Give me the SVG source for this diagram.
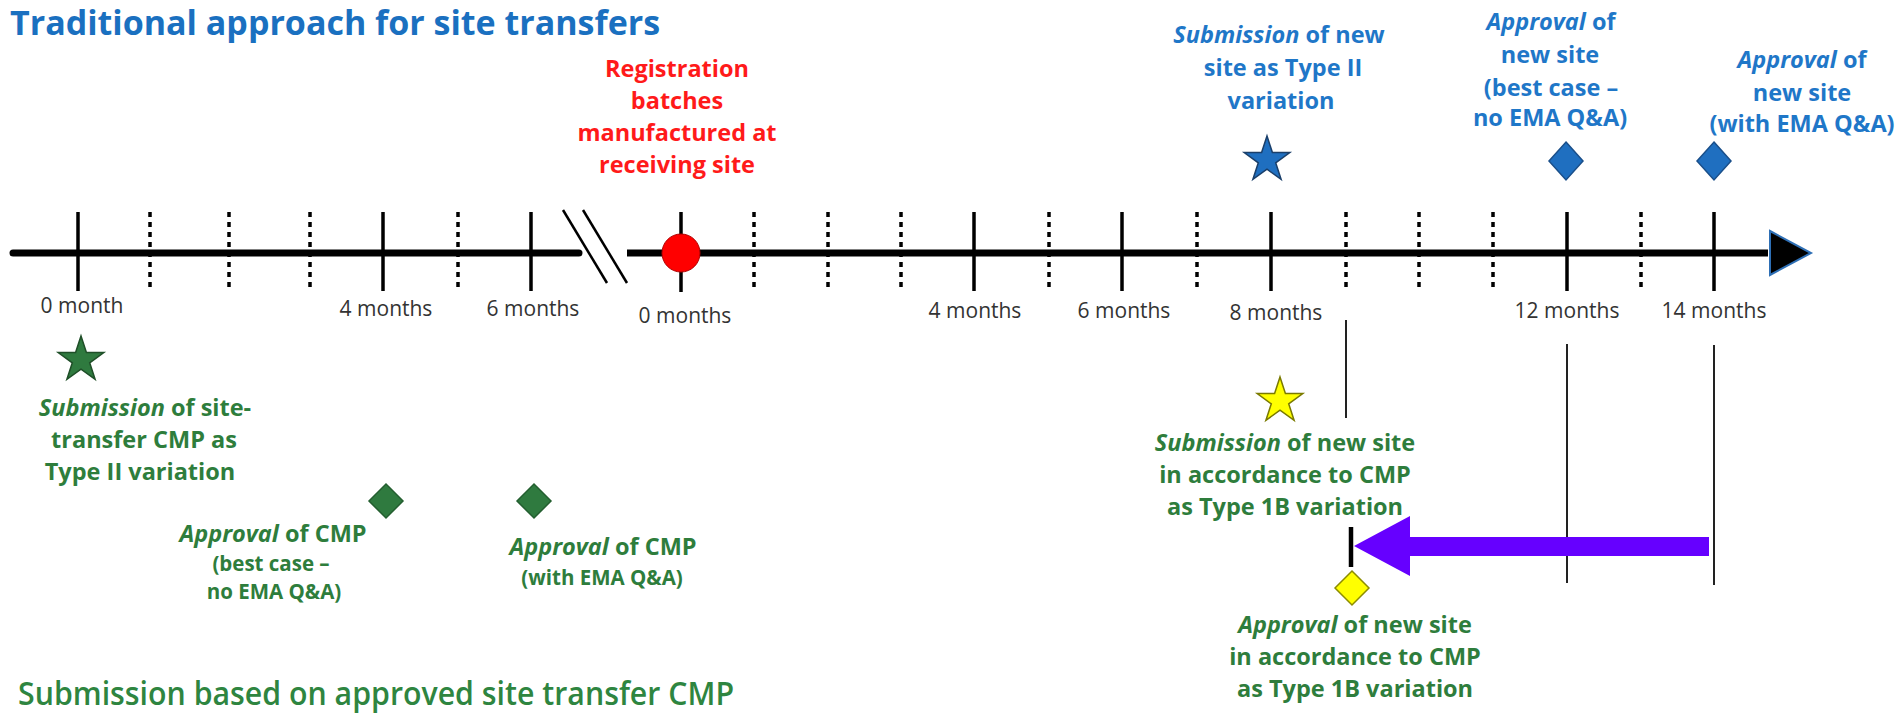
<svg xmlns="http://www.w3.org/2000/svg" xmlns:xlink="http://www.w3.org/1999/xlink" width="1903" height="716" viewBox="0 0 1903 716">
<style>
text{font-family:"Open Sans","Liberation Sans",sans-serif;}
.title{font-size:34px;font-weight:700;fill:#1a70c0;}
.btitle{font-size:32px;font-weight:600;fill:#2e8540;}
.tick{font-size:21px;fill:#333;text-anchor:middle;}
.lbl{font-size:23.5px;font-weight:700;text-anchor:middle;}
.sm{font-size:20.5px;}
.blue{fill:#1f77c8;}
.green{fill:#2e7d3c;}
.red{fill:#ff1a1a;}
.it{font-style:italic;}
.axis{stroke:#000;stroke-width:7;fill:none;}
.solid{stroke:#000;stroke-width:3.5;}
.dot{stroke:#000;stroke-width:3.5;stroke-dasharray:5 5;}
.thin{stroke:#222;stroke-width:2;}
</style>
<defs>
<polygon id="star" points="0,-24 5.4,-7.4 22.8,-7.4 8.7,2.8 14.1,19.4 0,9.2 -14.1,19.4 -8.7,2.8 -22.8,-7.4 -5.4,-7.4"/>
</defs>
<rect width="1903" height="716" fill="#fff"/>

<g id="title"><text class="title" x="10" y="35">Traditional approach for site transfers</text></g>
<g id="bottom-title"><text class="btitle" x="18" y="705" textLength="716" lengthAdjust="spacingAndGlyphs">Submission based on approved site transfer CMP</text></g>

<g id="connectors">
<line class="axis" x1="13" y1="253" x2="579" y2="253" stroke-linecap="round"/>
<line class="axis" x1="627" y1="253" x2="1768" y2="253"/>
<line x1="563" y1="210" x2="607" y2="283" stroke="#000" stroke-width="2.5"/>
<line x1="583" y1="210" x2="627" y2="283" stroke="#000" stroke-width="2.5"/>
<polygon points="1770,231 1811,253 1770,275" fill="#000" stroke="#2e6fb5" stroke-width="2"/>
<g>
<line class="solid" x1="78" y1="212" x2="78" y2="291"/>
<line class="dot" x1="150" y1="212" x2="150" y2="291"/>
<line class="dot" x1="229" y1="212" x2="229" y2="291"/>
<line class="dot" x1="310" y1="212" x2="310" y2="291"/>
<line class="solid" x1="383" y1="212" x2="383" y2="291"/>
<line class="dot" x1="458" y1="212" x2="458" y2="291"/>
<line class="solid" x1="531" y1="212" x2="531" y2="291"/>
<line class="solid" x1="681" y1="212" x2="681" y2="292"/>
<line class="dot" x1="754" y1="212" x2="754" y2="291"/>
<line class="dot" x1="828" y1="212" x2="828" y2="291"/>
<line class="dot" x1="901" y1="212" x2="901" y2="291"/>
<line class="solid" x1="974" y1="212" x2="974" y2="291"/>
<line class="dot" x1="1049" y1="212" x2="1049" y2="291"/>
<line class="solid" x1="1122" y1="212" x2="1122" y2="291"/>
<line class="dot" x1="1197" y1="212" x2="1197" y2="291"/>
<line class="solid" x1="1271" y1="212" x2="1271" y2="291"/>
<line class="dot" x1="1346" y1="212" x2="1346" y2="291"/>
<line class="dot" x1="1419" y1="212" x2="1419" y2="291"/>
<line class="dot" x1="1493" y1="212" x2="1493" y2="291"/>
<line class="solid" x1="1567" y1="212" x2="1567" y2="291"/>
<line class="dot" x1="1641" y1="212" x2="1641" y2="291"/>
<line class="solid" x1="1714" y1="212" x2="1714" y2="291"/>
</g>
<line class="thin" x1="1346" y1="320" x2="1346" y2="418"/>
<line class="thin" x1="1567" y1="344" x2="1567" y2="583"/>
<line class="thin" x1="1714" y1="345" x2="1714" y2="585"/>
<line x1="1351" y1="527" x2="1351" y2="567" stroke="#000" stroke-width="4.5"/>
<polygon points="1709,537 1410,537 1410,516 1354,546 1410,576 1410,556 1709,556" fill="#6600ff"/>
</g>

<g id="tick-labels">
<text class="tick" x="82" y="313">0 month</text>
<text class="tick" x="386" y="316">4 months</text>
<text class="tick" x="533" y="316">6 months</text>
<text class="tick" x="685" y="323">0 months</text>
<text class="tick" x="975" y="318">4 months</text>
<text class="tick" x="1124" y="318">6 months</text>
<text class="tick" x="1276" y="320">8 months</text>
<text class="tick" x="1567" y="318">12 months</text>
<text class="tick" x="1714" y="318">14 months</text>
</g>

<g id="registration">
<circle cx="681" cy="253" r="19" fill="#ff0000" stroke="#b00000" stroke-width="1"/>
<text class="lbl red"><tspan x="677" y="77">Registration</tspan><tspan x="677" y="109">batches</tspan><tspan x="677" y="141">manufactured at</tspan><tspan x="677" y="173">receiving site</tspan></text>
</g>

<g id="submission-type2">
<use xlink:href="#star" href="#star" transform="translate(1267,160)" fill="#1f6fc0" stroke="#1a3f6a" stroke-width="1.5"/>
<text class="lbl blue"><tspan x="1279" y="43"><tspan class="it">Submission</tspan> of new</tspan><tspan x="1283" y="76">site as Type II</tspan><tspan x="1281" y="109">variation</tspan></text>
</g>

<g id="approval-best">
<polygon points="1566,142 1583,161 1566,180 1549,161" fill="#1f6fc0" stroke="#1a4f8a" stroke-width="1.5"/>
<text class="lbl blue"><tspan x="1551" y="30"><tspan class="it">Approval</tspan> of</tspan><tspan x="1550" y="63">new site</tspan><tspan x="1551" y="96">(best case –</tspan><tspan x="1550" y="126">no EMA Q&amp;A)</tspan></text>
</g>

<g id="approval-with">
<polygon points="1714,142 1731,161 1714,180 1697,161" fill="#1f6fc0" stroke="#1a4f8a" stroke-width="1.5"/>
<text class="lbl blue"><tspan x="1802" y="68"><tspan class="it">Approval</tspan> of</tspan><tspan x="1802" y="101">new site</tspan><tspan x="1802" y="132">(with EMA Q&amp;A)</tspan></text>
</g>

<g id="submission-cmp">
<use xlink:href="#star" href="#star" transform="translate(81,360)" fill="#2f7a3f" stroke="#1f4f28" stroke-width="1.5"/>
<text class="lbl green"><tspan x="145" y="416"><tspan class="it">Submission</tspan> of site-</tspan><tspan x="144" y="448">transfer CMP as</tspan><tspan x="140" y="480">Type II variation</tspan></text>
</g>

<g id="approval-cmp-best">
<polygon points="386,484 403,501 386,518 369,501" fill="#2f7a3f" stroke="#245f30" stroke-width="1.5"/>
<text class="lbl green"><tspan x="273" y="542"><tspan class="it">Approval</tspan> of CMP</tspan><tspan class="sm" x="271" y="571">(best case –</tspan><tspan class="sm" x="274" y="599">no EMA Q&amp;A)</tspan></text>
</g>

<g id="approval-cmp-with">
<polygon points="534,484 551,501 534,518 517,501" fill="#2f7a3f" stroke="#245f30" stroke-width="1.5"/>
<text class="lbl green"><tspan x="603" y="555"><tspan class="it">Approval</tspan> of CMP</tspan><tspan class="sm" x="602" y="585">(with EMA Q&amp;A)</tspan></text>
</g>

<g id="submission-1b">
<use xlink:href="#star" href="#star" transform="translate(1280,401)" fill="#ffff00" stroke="#7a7a00" stroke-width="1.5"/>
<text class="lbl green"><tspan x="1285" y="451"><tspan class="it">Submission</tspan> of new site</tspan><tspan x="1285" y="483">in accordance to CMP</tspan><tspan x="1285" y="515">as Type 1B variation</tspan></text>
</g>

<g id="approval-1b">
<polygon points="1352,571 1369,588 1352,605 1335,588" fill="#ffff00" stroke="#8c8c00" stroke-width="1.5"/>
<text class="lbl green"><tspan x="1355" y="633"><tspan class="it">Approval</tspan> of new site</tspan><tspan x="1355" y="665">in accordance to CMP</tspan><tspan x="1355" y="697">as Type 1B variation</tspan></text>
</g>
</svg>
